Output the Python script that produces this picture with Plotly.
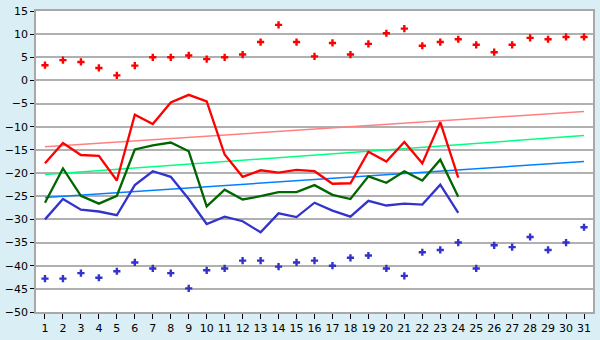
import plotly.graph_objects as go

days = list(range(1, 32))
line_days = list(range(1, 25))

# daily maxima / minima shown as scattered markers
top_points = [3.3, 4.4, 4.0, 2.7, 1.1, 3.2, 5.0, 5.0, 5.4, 4.6,
              5.0, 5.6, 8.3, 12.0, 8.3, 5.2, 8.1, 5.6, 7.9, 10.2,
              11.2, 7.5, 8.3, 8.9, 7.7, 6.1, 7.7, 9.2, 8.9, 9.4, 9.4]
bottom_points = [-42.8, -42.8, -41.6, -42.6, -41.2, -39.3, -40.6, -41.6, -44.9, -41.0,
                 -40.6, -38.9, -38.9, -40.2, -39.3, -38.9, -40.0, -38.3, -37.8, -40.6,
                 -42.2, -37.1, -36.6, -35.0, -40.6, -35.6, -36.0, -33.8, -36.6, -35.0, -31.7]

# observed series for days 1-24
red_series = [-17.9, -13.5, -16.1, -16.3, -21.6, -7.4, -9.4, -4.75, -3.1, -4.5,
              -16.0, -20.8, -19.4, -19.9, -19.3, -19.6, -22.3, -22.2, -15.4, -17.5,
              -13.3, -17.9, -9.0, -21.0]
green_series = [-26.4, -19.0, -24.9, -26.6, -24.9, -14.9, -14.0, -13.4, -15.3, -27.2,
                -23.6, -25.7, -25.0, -24.1, -24.1, -22.6, -24.7, -25.6, -20.7, -22.1,
                -19.6, -21.6, -17.1, -25.1]
blue_series = [-30.0, -25.6, -27.9, -28.3, -29.1, -22.6, -19.6, -20.8, -25.6, -31.0,
               -29.4, -30.4, -32.8, -28.7, -29.5, -26.4, -28.1, -29.4, -26.0, -27.0,
               -26.6, -26.8, -22.5, -28.6]

# trend lines across the month (start, end)
trend_days = [1, 31]
red_trend = [-14.3, -6.7]
green_trend = [-20.3, -11.9]
blue_trend = [-25.3, -17.5]

fig = go.Figure()

for vals, col in [(red_trend, "#ff8080"), (green_trend, "#00ff80"), (blue_trend, "#0080ff")]:
    fig.add_trace(go.Scatter(x=trend_days, y=vals, mode="lines",
                             line=dict(color=col, width=1.5), hoverinfo="skip"))

for vals, col in [(blue_series, "#3333cc"), (green_series, "#006600"), (red_series, "#ff0000")]:
    fig.add_trace(go.Scatter(x=line_days, y=vals, mode="lines",
                             line=dict(color=col, width=2.3)))

fig.add_trace(go.Scatter(x=days, y=top_points, mode="markers",
                         marker=dict(symbol="cross", size=6, color="#ff0000")))
fig.add_trace(go.Scatter(x=days, y=bottom_points, mode="markers",
                         marker=dict(symbol="cross", size=6, color="#3333cc")))

fig.update_layout(
    width=600, height=340,
    margin=dict(l=26, r=5, t=5, b=20),
    paper_bgcolor="#d9eef5",
    plot_bgcolor="#ffffff",
    showlegend=False,
    font=dict(family="DejaVu Sans", size=11, color="#000000"),
)
fig.update_xaxes(
    range=[0.5, 31.5], tickmode="array", tickvals=days,
    ticks="outside", ticklen=5, tickcolor="#000000",
    showgrid=False, zeroline=False,
    showline=True, linecolor="#a8a8a8", linewidth=1.5, mirror=True,
)
fig.update_yaxes(
    range=[-50, 15], dtick=5,
    ticks="outside", ticklen=4, tickcolor="#000000",
    showgrid=True, gridcolor="#b0b0b0", gridwidth=1.5,
    zeroline=False,
    showline=True, linecolor="#a8a8a8", linewidth=1.5, mirror=True,
)

fig.write_html("out.html")
